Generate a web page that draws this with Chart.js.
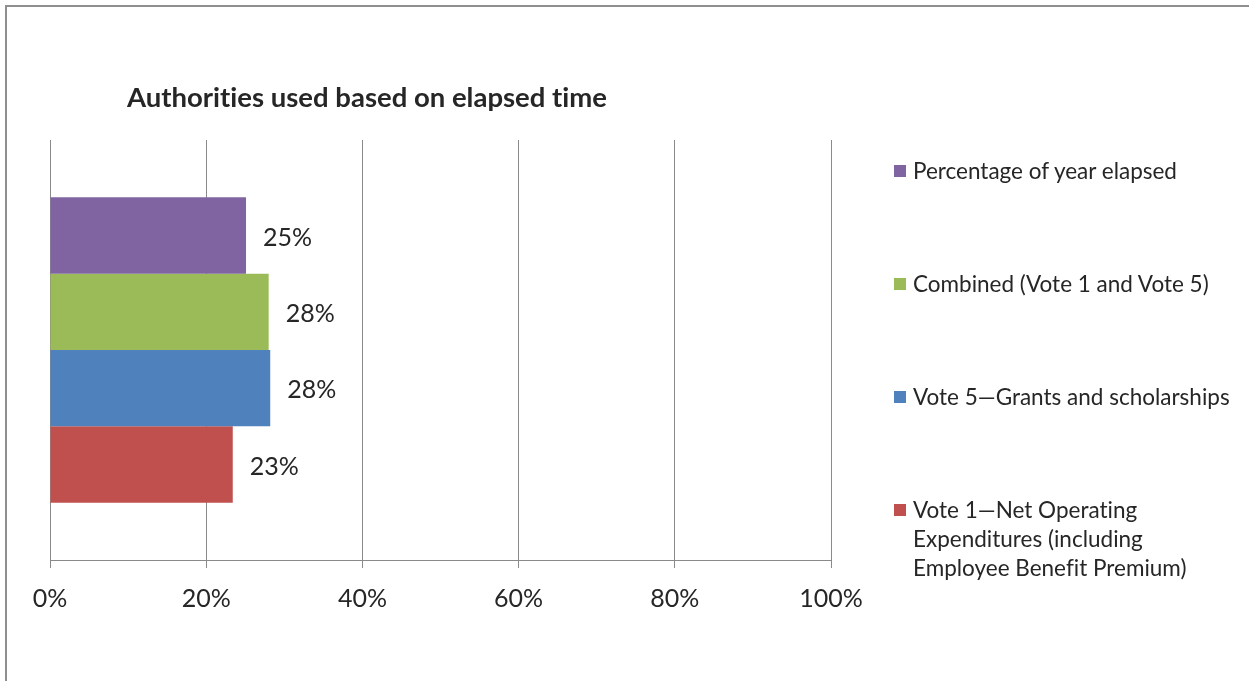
<!DOCTYPE html>
<html>
<head>
<meta charset="utf-8">
<title>Authorities used based on elapsed time</title>
<script src="https://cdn.jsdelivr.net/npm/chart.js@4.4.1/dist/chart.umd.min.js"></script>
<style>
  html, body { margin: 0; padding: 0; background: #fff; overflow: hidden; }
  #wrap { position: relative; width: 1249px; height: 681px; font-family: Lato, "Open Sans", sans-serif; color: #262626; font-variant-ligatures: none; }
  #frame { position: absolute; left: 5px; top: 5px; width: 1400px; height: 800px; border: 2px solid #8f8f8f; box-sizing: border-box; }
  #title { position: absolute; left: 127px; top: 82px; font-size: 27.5px; font-weight: bold; line-height: 30px; white-space: nowrap; }
  #chartBox { position: absolute; left: 0; top: 0; width: 1249px; height: 681px; }
  #legend { position: absolute; left: 894px; top: 156px; width: 350px; }
  .item { display: flex; align-items: flex-start; margin-bottom: 84px; font-size: 22.5px; line-height: 29px; }
  .box { width: 12px; height: 12px; margin-top: 9px; margin-right: 7px; flex: none; }
  .txt { width: 318px; }
</style>
</head>
<body>
<div id="wrap">
  <div id="frame"></div>
  <div id="chartBox"><canvas id="myChart"></canvas></div>
  <div id="title">Authorities used based on elapsed time</div>
  <div id="legend"></div>
</div>
<script>
var categories = ['Authorities'];
var seriesNames = [
  'Percentage of year elapsed',
  'Combined (Vote 1 and Vote 5)',
  'Vote 5\u2014Grants and scholarships',
  'Vote 1\u2014Net Operating Expenditures (including Employee Benefit Premium)'
];
var yearElapsed = [25.1];
var combined = [28.0];
var vote5 = [28.2];
var vote1 = [23.4];
var colors = ['#8064A2', '#9BBB59', '#4F81BD', '#C0504D'];
var xTicks = [0, 20, 40, 60, 80, 100];

var allValues = [yearElapsed, combined, vote5, vote1];
var datasets = [];
for (var i = 0; i < seriesNames.length; i++) {
  datasets.push({
    label: seriesNames[i],
    data: allValues[i],
    backgroundColor: colors[i],
    borderWidth: 0,
    barPercentage: 1.0,
    categoryPercentage: 0.727
  });
}

// value labels to the right of each bar
var valueLabels = {
  id: 'valueLabels',
  afterDatasetsDraw: function(chart) {
    var c = chart.ctx;
    c.save();
    c.font = '25px Lato, "Open Sans", sans-serif';
    c.fillStyle = '#262626';
    c.textAlign = 'left';
    c.textBaseline = 'middle';
    chart.data.datasets.forEach(function(ds, di) {
      var meta = chart.getDatasetMeta(di);
      meta.data.forEach(function(bar, j) {
        c.fillText(Math.round(ds.data[j]) + '%', bar.x + 17, bar.y + 2);
      });
    });
    c.restore();
  }
};

var ctx = document.getElementById('myChart');
var myChart = new Chart(ctx, {
  type: 'bar',
  data: {
    labels: categories,
    datasets: datasets
  },
  options: {
    indexAxis: 'y',
    responsive: true,
    maintainAspectRatio: false,
    animation: false,
    layout: {
      padding: { left: 50, right: 418, top: 140, bottom: 51 }
    },
    plugins: {
      legend: { display: false },
      title: { display: false },
      tooltip: { enabled: false }
    },
    scales: {
      x: {
        min: 0,
        max: 100,
        afterBuildTicks: function(axis) {
          axis.ticks = xTicks.map(function(v) { return { value: v }; });
        },
        grid: { color: '#8a8a8a', lineWidth: 1, tickLength: 8, drawTicks: true },
        border: { display: true, color: '#8a8a8a', width: 1 },
        ticks: {
          padding: 16,
          color: '#262626',
          font: { family: 'Lato, "Open Sans", sans-serif', size: 25 },
          callback: function(v) { return v + '%'; }
        }
      },
      y: {
        display: false
      }
    }
  },
  plugins: [valueLabels]
});

// html legend, same order as the bars
var legend = document.getElementById('legend');
seriesNames.forEach(function(name, i) {
  var item = document.createElement('div');
  item.className = 'item';
  var box = document.createElement('div');
  box.className = 'box';
  box.style.background = colors[i];
  var txt = document.createElement('div');
  txt.className = 'txt';
  txt.textContent = name;
  item.appendChild(box);
  item.appendChild(txt);
  legend.appendChild(item);
});
</script>
</body>
</html>
